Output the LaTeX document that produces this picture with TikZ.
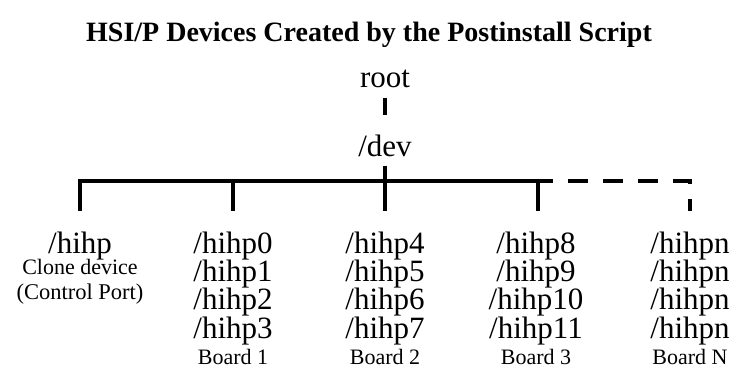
\documentclass[tikz,border=0pt]{standalone}
\usepackage{fontspec}
\setmainfont{Liberation Serif}

\tikzset{
  wire/.style={line width=3.2pt},
  busdash/.style={wire, dash pattern=on 20pt off 15pt, dash phase=5pt},
  heading/.style={font=\fontsize{28}{34}\selectfont\bfseries, inner sep=0pt, anchor=base},
  dir/.style={font=\fontsize{31}{28}\selectfont, inner sep=0pt, anchor=base},
  board/.style={font=\fontsize{22}{28}\selectfont, inner sep=0pt, anchor=base},
  note/.style={font=\fontsize{22}{28}\selectfont, inner sep=0pt, anchor=base},
  smallnote/.style={font=\fontsize{22.5}{28}\selectfont, inner sep=0pt, anchor=base},
}

\begin{document}
\begin{tikzpicture}[x=1pt,y=-1pt]

  \useasboundingbox (0,0) rectangle (737,382);

  \newcommand\rowY{28}

  \node[heading] (title) at (369,42) {HSI/P Devices Created by the Postinstall Script};

  \node[dir] (root) at (385,88) {root};
  \node[dir] (dev) at (385,157) {/dev};

  % clone device column
  \node[dir] (hihp) at (80,254) {/hihp};
  \node[note] (clone) at (80,275) {Clone device};
  \node[smallnote] (ctrl) at (80,300) {(Control Port)};

  % board columns
  \foreach \b/\x/\lbl/\ports in {1/233/1/{0,1,2,3}, 2/385/2/{4,5,6,7},
                                 3/536/3/{8,9,10,11}, 4/690/N/{n,n,n,n}} {
    \node[board] (board\b) at (\x,364) {Board \lbl};
    \foreach \p [count=\r from 0] in \ports
      \node[dir] (port\b-\r) at (\x,254+\r*\rowY) {/hihp\p};
  }

  % bus taps
  \foreach \i/\x in {0/80,1/233,2/385,3/538,4/690} {
    \coordinate (tap\i) at (\x,181);
    \coordinate (foot\i) at (\x,211);
  }

  \draw[wire, shorten <=9pt, shorten >=20pt] (root.south) -- (dev.north);
  \draw[wire, shorten <=8pt] (dev.south) -- (foot2);
  \draw[wire] (foot0) |- (tap3) -- (foot3);
  \draw[wire] (tap1) -- (foot1);
  \draw[busdash] (tap3) -| (foot4); % more boards

\end{tikzpicture}
\end{document}
